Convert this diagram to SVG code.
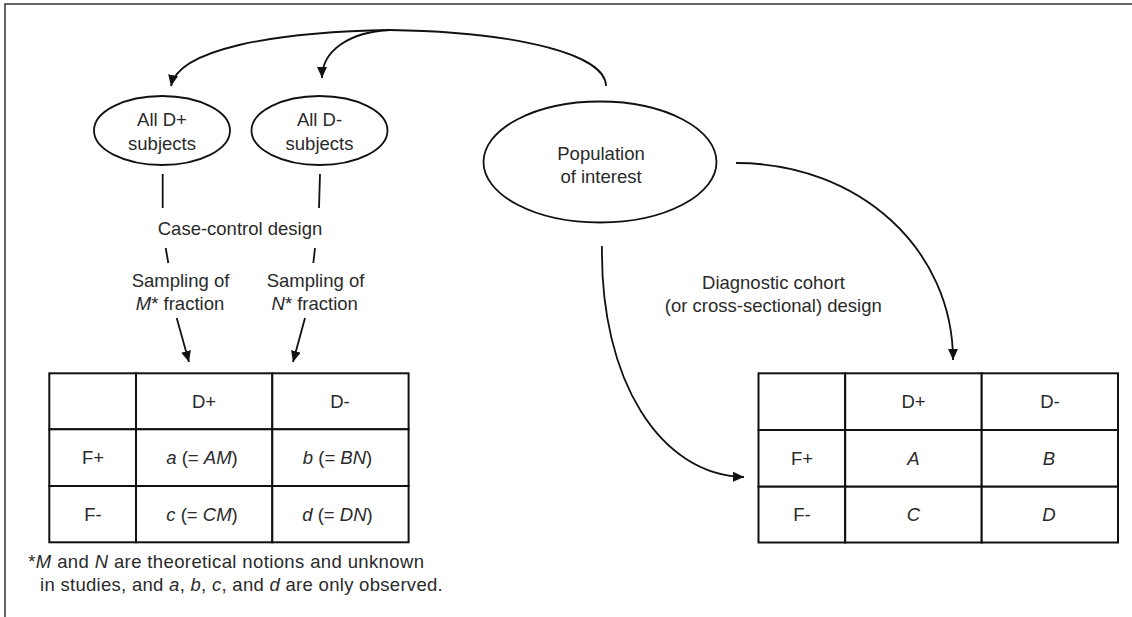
<svg xmlns="http://www.w3.org/2000/svg" width="1132" height="617" viewBox="0 0 1132 617">
  <style>
    text { font-family: "Liberation Sans", Arial, sans-serif; font-size: 18.5px; fill: #2a2a2a; text-anchor: middle; }
    .it { font-style: italic; }
    .node { fill: #ffffff; stroke: #111111; stroke-width: 1.8; }
    .cell { fill: #ffffff; stroke: #111111; stroke-width: 2; }
    .conn { fill: none; stroke: #111111; stroke-width: 1.8; }
    .arrow { fill: none; stroke: #111111; stroke-width: 1.8; marker-end: url(#ah); }
    .frame { fill: none; stroke: #333333; stroke-width: 1.5; }
  </style>
  <defs>
    <marker id="ah" markerUnits="userSpaceOnUse" markerWidth="12" markerHeight="12" viewBox="0 0 12 12" refX="11" refY="5" orient="auto">
      <path d="M0,0 L11,5 L0,10 Z" fill="#111111"/>
    </marker>
  </defs>
  <rect x="0" y="0" width="1132" height="617" fill="#ffffff"/>
  <path class="frame" d="M5,617 L5,4 L1132,4"/>

  <g id="connectors">
    <path class="conn" d="M606,86 C606,55 520,32 390,30"/>
    <path class="arrow" d="M390,30 C270,32 178,50 171,86"/>
    <path class="arrow" d="M390,30 C350,32 322,50 322,78"/>
    <line class="conn" x1="162.7" y1="174" x2="162.7" y2="208"/>
    <line class="conn" x1="320" y1="174" x2="319" y2="208"/>
    <line class="conn" x1="165.7" y1="248" x2="168.3" y2="263"/>
    <line class="conn" x1="315" y1="248" x2="313.3" y2="263"/>
    <line class="arrow" x1="176.7" y1="318" x2="189" y2="362"/>
    <line class="arrow" x1="305" y1="318" x2="293" y2="362"/>
    <path class="arrow" d="M736,163 C860,163 953,250 953,360"/>
    <path class="arrow" d="M602,246 C600,380 660,475 744,477"/>
  </g>

  <g id="node-all-dplus">
    <ellipse class="node" cx="162" cy="130.5" rx="68" ry="34.5"/>
    <text x="162" y="126">All D+</text>
    <text x="162" y="150">subjects</text>
  </g>
  <g id="node-all-dminus">
    <ellipse class="node" cx="319.5" cy="130.5" rx="68" ry="34.5"/>
    <text x="319.5" y="126">All D-</text>
    <text x="319.5" y="150">subjects</text>
  </g>
  <g id="node-population">
    <ellipse class="node" cx="600" cy="162" rx="116.5" ry="60.5"/>
    <text x="601" y="159.5">Population</text>
    <text x="601" y="182.7">of interest</text>
  </g>

  <g id="label-case-control">
    <text x="240" y="235">Case-control design</text>
  </g>
  <g id="label-sampling-m">
    <text x="180.5" y="286.7">Sampling of</text>
    <text x="180" y="310"><tspan class="it">M</tspan>* fraction</text>
  </g>
  <g id="label-sampling-n">
    <text x="315.5" y="286.7">Sampling of</text>
    <text x="314.7" y="310"><tspan class="it">N</tspan>* fraction</text>
  </g>
  <g id="label-cohort">
    <text x="773.5" y="289">Diagnostic cohort</text>
    <text x="773.3" y="311.5">(or cross-sectional) design</text>
  </g>

  <g id="table-case-control">
    <rect class="cell" x="49.3" y="373.3" width="86.7" height="56"/>
    <rect class="cell" x="136" y="373.3" width="136.3" height="56"/>
    <rect class="cell" x="272.3" y="373.3" width="136.3" height="56"/>
    <rect class="cell" x="49.3" y="429.3" width="86.7" height="56.7"/>
    <rect class="cell" x="136" y="429.3" width="136.3" height="56.7"/>
    <rect class="cell" x="272.3" y="429.3" width="136.3" height="56.7"/>
    <rect class="cell" x="49.3" y="486" width="86.7" height="56.3"/>
    <rect class="cell" x="136" y="486" width="136.3" height="56.3"/>
    <rect class="cell" x="272.3" y="486" width="136.3" height="56.3"/>
    <text x="204" y="407.8">D+</text>
    <text x="340" y="407.8">D-</text>
    <text x="93" y="464.3">F+</text>
    <text x="202" y="464.3"><tspan class="it">a</tspan> (= <tspan class="it">AM</tspan>)</text>
    <text x="337.5" y="464.3"><tspan class="it">b</tspan> (= <tspan class="it">BN</tspan>)</text>
    <text x="93" y="520.8">F-</text>
    <text x="202" y="520.8"><tspan class="it">c</tspan> (= <tspan class="it">CM</tspan>)</text>
    <text x="337.5" y="520.8"><tspan class="it">d</tspan> (= <tspan class="it">DN</tspan>)</text>
  </g>

  <g id="footnote">
    <text x="28.3" y="567.7" style="text-anchor:start" textLength="395.7" lengthAdjust="spacing">*<tspan class="it">M</tspan> and <tspan class="it">N</tspan> are theoretical notions and unknown</text>
    <text x="40" y="590.7" style="text-anchor:start" textLength="402.7" lengthAdjust="spacing">in studies, and <tspan class="it">a</tspan>, <tspan class="it">b</tspan>, <tspan class="it">c</tspan>, and <tspan class="it">d</tspan> are only observed.</text>
  </g>

  <g id="table-cohort">
    <rect class="cell" x="758.5" y="373.3" width="86.7" height="56.7"/>
    <rect class="cell" x="845.2" y="373.3" width="136.5" height="56.7"/>
    <rect class="cell" x="981.7" y="373.3" width="136.3" height="56.7"/>
    <rect class="cell" x="758.5" y="430" width="86.7" height="56.7"/>
    <rect class="cell" x="845.2" y="430" width="136.5" height="56.7"/>
    <rect class="cell" x="981.7" y="430" width="136.3" height="56.7"/>
    <rect class="cell" x="758.5" y="486.7" width="86.7" height="55.8"/>
    <rect class="cell" x="845.2" y="486.7" width="136.5" height="55.8"/>
    <rect class="cell" x="981.7" y="486.7" width="136.3" height="55.8"/>
    <text x="913.5" y="408">D+</text>
    <text x="1050" y="408">D-</text>
    <text x="802" y="464.8">F+</text>
    <text x="913.5" y="464.8" class="it">A</text>
    <text x="1049" y="464.8" class="it">B</text>
    <text x="802" y="521.2">F-</text>
    <text x="913.5" y="521.2" class="it">C</text>
    <text x="1049" y="521.2" class="it">D</text>
  </g>
</svg>
